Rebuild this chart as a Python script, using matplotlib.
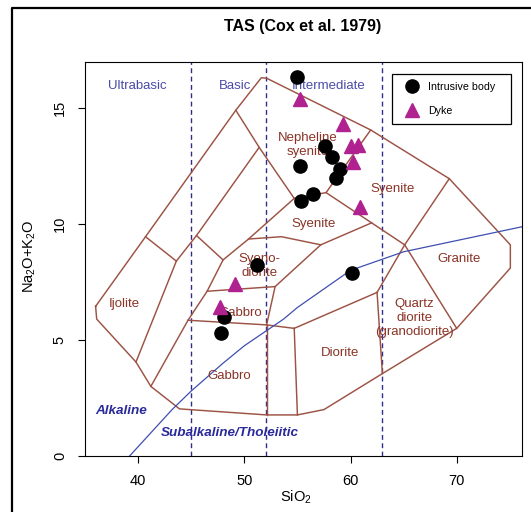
import matplotlib
matplotlib.use('Agg')
import matplotlib.pyplot as plt
from matplotlib.lines import Line2D

plt.rcParams['font.family'] = ['Liberation Sans', 'DejaVu Sans']
plt.rcParams['mathtext.default'] = 'regular'

# ---- sample data ----
sio2_intrusive = [55.0, 57.6, 58.3, 55.2, 59.0, 58.6, 56.5, 55.3, 51.2, 60.1, 48.1, 47.8]
alk_intrusive = [16.35, 13.35, 12.9, 12.5, 12.35, 12.0, 11.3, 11.0, 8.25, 7.9, 6.0, 5.3]
sio2_dyke = [55.2, 59.3, 60.0, 60.7, 60.2, 60.9, 49.1, 47.7]
alk_dyke = [15.4, 14.3, 13.35, 13.4, 12.65, 10.75, 7.4, 6.4]

# ---- Cox et al. (1979) plutonic template ----
outer_boundary = [(36.0, 6.45), (36.1, 5.9), (39.8, 4.05), (41.2, 3.0), (43.9, 2.03),
                  (52.1, 1.77), (55.0, 1.77), (57.5, 2.0), (63.0, 3.55), (70.0, 5.5),
                  (75.05, 8.1), (75.05, 9.1), (69.3, 11.95), (61.9, 14.05), (52.1, 16.28),
                  (51.6, 16.3), (49.2, 14.9), (40.7, 9.45), (36.0, 6.45)]
ijolite_right = [(39.8, 4.05), (43.6, 8.4)]
ijolite_top = [(40.7, 9.45), (43.6, 8.4)]
tephri_line = [(43.6, 8.4), (45.5, 9.5), (51.4, 13.3)]
basanite_top = [(45.5, 9.5), (48.0, 8.45)]
gabbro_left = [(41.2, 3.0), (44.7, 5.85), (46.5, 7.1), (48.0, 8.45), (50.4, 9.35), (54.7, 11.1)]
nephsyenite_left = [(49.2, 14.9), (51.4, 13.3), (54.7, 11.1)]
gabbro_box_top = [(46.5, 7.1), (52.9, 7.3)]
gabbro_box_bottom = [(44.7, 5.85), (52.1, 5.65), (54.7, 5.5)]
gabbro_box_right = [(52.1, 5.65), (52.9, 7.3), (57.2, 9.1)]
gabbro_right = [(52.1, 5.65), (52.1, 1.77)]
diorite_left = [(54.7, 5.5), (55.0, 1.77)]
diorite_top = [(54.7, 5.5), (62.5, 7.05)]
qdiorite_left = [(62.5, 7.05), (63.0, 3.55)]
granite_left = [(62.5, 7.05), (65.1, 9.1), (69.3, 11.95)]
qdiorite_right = [(65.1, 9.1), (70.0, 5.5)]
syenodiorite_top = [(50.4, 9.35), (53.5, 9.45), (57.2, 9.1), (62.0, 10.05)]
nephsyenite_bottom = [(54.7, 11.1), (57.7, 11.35), (61.9, 14.05)]
syenite_bottom = [(57.7, 11.35), (65.1, 9.1)]

field_lines = [outer_boundary, ijolite_right, ijolite_top, tephri_line, basanite_top,
               gabbro_left, nephsyenite_left, gabbro_box_top, gabbro_box_bottom,
               gabbro_box_right, gabbro_right, diorite_left, diorite_top, qdiorite_left,
               granite_left, qdiorite_right, syenodiorite_top, nephsyenite_bottom,
               syenite_bottom]

field_names = ['Ijolite', 'Gabbro', 'Gabbro', 'Syeno-\ndiorite', 'Syenite', 'Syenite',
               'Nepheline\nsyenite', 'Diorite', 'Quartz\ndiorite\n(granodiorite)', 'Granite']
field_x = [38.7, 49.6, 48.6, 51.4, 56.5, 64.0, 56.0, 59.0, 66.0, 70.2]
field_y = [6.55, 6.15, 3.45, 8.2, 10.0, 11.5, 13.4, 4.45, 5.95, 8.5]

silica_limits = [45, 52, 63]
silica_names = ['Ultrabasic', 'Basic', 'Intermediate']
silica_x = [39.9, 49.1, 57.9]

# Irvine & Baragar (1971) alkaline/subalkaline divide
ib_x = [39.2, 40, 43.2, 45, 48, 50, 53.7, 55, 60, 65, 77.4]
ib_y = [0, 0.4, 2.0, 2.8, 4.0, 4.75, 5.9, 6.4, 8.0, 8.8, 10.0]

line_col = '#9C5244'
name_col = '#8A3326'
blue_txt = '#4A4AA8'
navy = '#2E2E8C'

fig = plt.figure(figsize=(5.31, 5.12), dpi=100)
ax = fig.add_axes([85 / 531, 1 - 456 / 512, 436.5 / 531, 394.5 / 512])

for seg in field_lines:
    xs = [p[0] for p in seg]
    ys = [p[1] for p in seg]
    ax.plot(xs, ys, color=line_col, lw=1.05, zorder=2)

for xv in silica_limits:
    ax.axvline(xv, color=navy, lw=1.0, ls=(0, (3.5, 2.5)), zorder=1)

ax.plot(ib_x, ib_y, color='#3F4FB0', lw=0.9, zorder=2)

for name, x, y in zip(field_names, field_x, field_y):
    ax.text(x, y, name, color=name_col, fontsize=9.5, ha='center', va='center',
            linespacing=1.2, zorder=3)

for name, x in zip(silica_names, silica_x):
    ax.text(x, 15.95, name, color=blue_txt, fontsize=9.5, ha='center', va='center', zorder=3)

ax.text(38.4, 1.95, 'Alkaline', color='#2A2A9A', fontsize=9.7, fontweight='bold',
        style='italic', ha='center', va='center')
ax.text(48.6, 0.98, 'Subalkaline/Tholeiitic', color='#2A2A9A', fontsize=9.7,
        fontweight='bold', style='italic', ha='center', va='center')

ax.plot(sio2_intrusive, alk_intrusive, 'o', color='black', ms=9.5, ls='none',
        label='Intrusive body', zorder=5)
ax.plot(sio2_dyke, alk_dyke, '^', color='#B0228F', ms=10, ls='none',
        label='Dyke', zorder=5)

ax.set_xlim(35.0, 76.1)
ax.set_ylim(0, 17.0)
ax.set_xticks([40, 50, 60, 70])
ax.set_yticks([0, 5, 10, 15])
ax.tick_params(direction='out', length=5, width=0.8, labelsize=10.5, pad=8)
plt.setp(ax.get_yticklabels(), rotation=90, va='center')
for sp in ax.spines.values():
    sp.set_linewidth(0.8)

leg = ax.legend(loc='upper left', bbox_to_anchor=(0.703, 0.839, 0.273, 0.129),
                mode='expand', borderaxespad=0, fontsize=7.7, fancybox=False,
                edgecolor='black', framealpha=1, borderpad=0.7, labelspacing=1.35,
                handlelength=2.4, handletextpad=0.25, numpoints=1)
leg.get_frame().set_linewidth(0.9)
leg.set_zorder(6)

fig.text(303 / 531, 1 - 27 / 512, 'TAS (Cox et al. 1979)', ha='center', va='center',
         fontsize=11.5, fontweight='bold')
fig.text(30 / 531, 1 - 256 / 512, 'Na$_2$O+K$_2$O', rotation=90, ha='center',
         va='center', fontsize=10.5)
fig.text(296 / 531, 1 - 497 / 512, 'SiO$_2$', ha='center', va='center', fontsize=10.5)

# outer frame of the original figure (cut at right and bottom)
fig.add_artist(Line2D([12 / 531, 12 / 531, 1], [0, 1 - 8 / 512, 1 - 8 / 512],
                      transform=fig.transFigure, color='black', lw=1.6))

fig.savefig('out.png', dpi=100)
